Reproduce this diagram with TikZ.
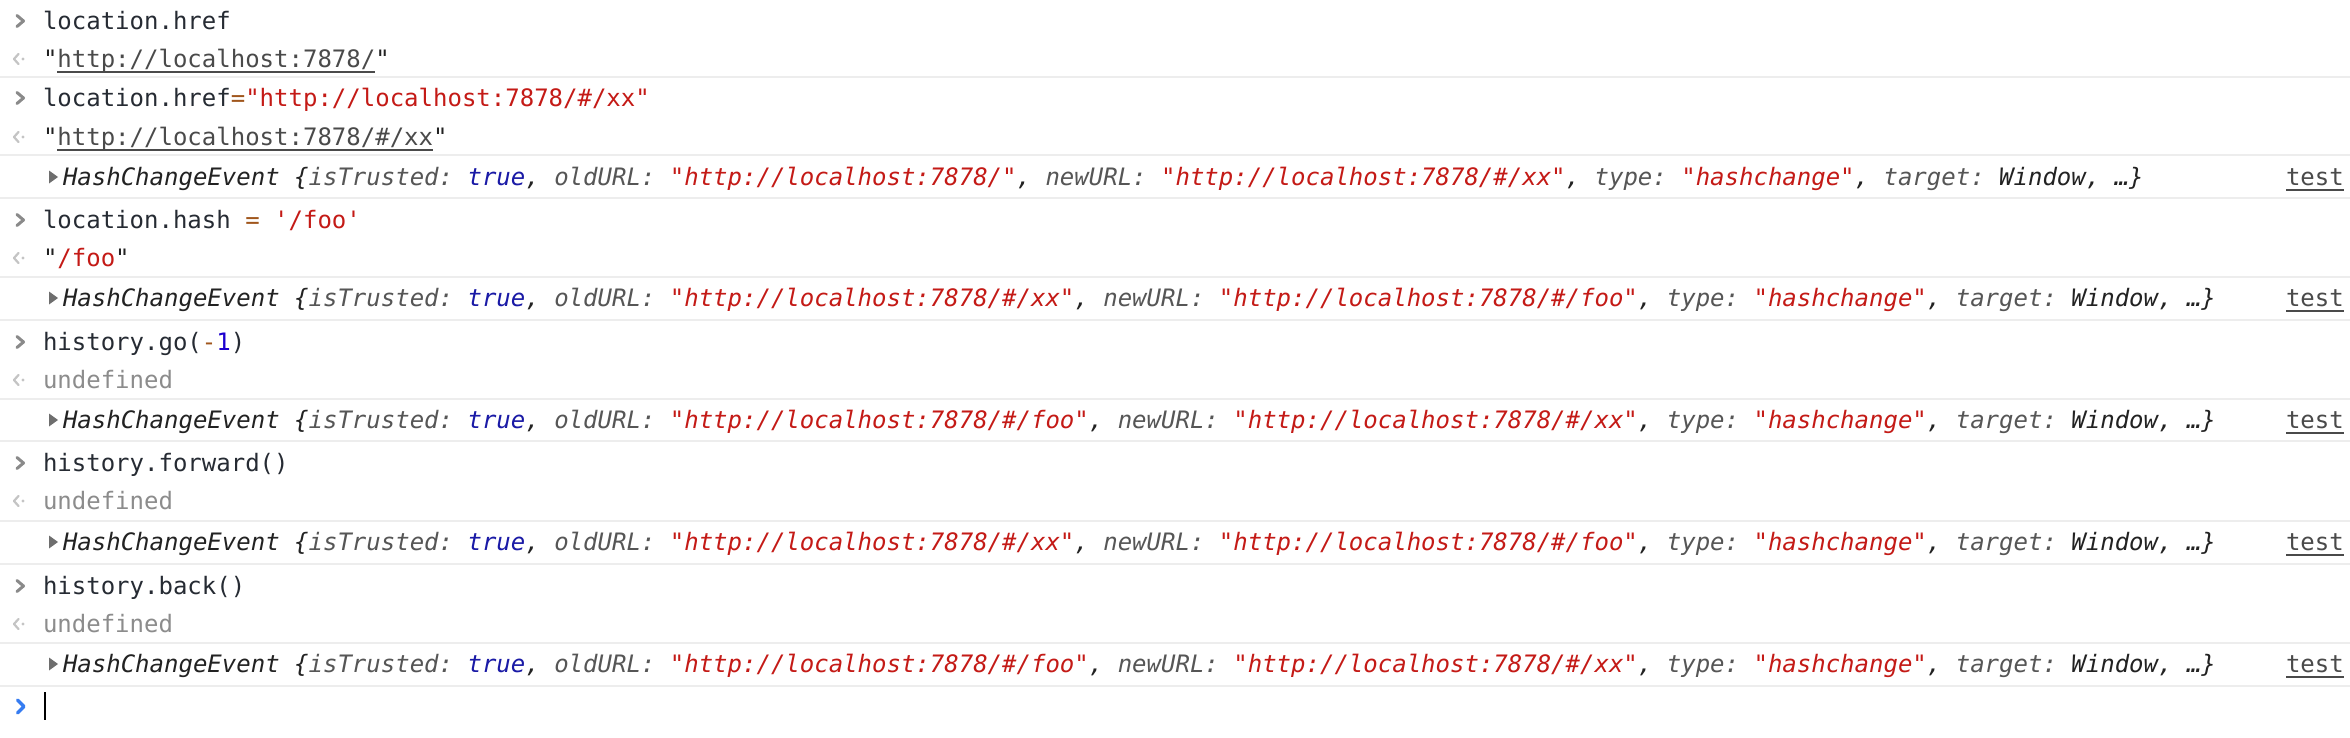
\documentclass[tikz,border=0pt]{standalone}
\usepackage{fontspec}
\setmonofont{DejaVu Sans Mono}
\usepackage{xcolor}
\definecolor{cin}{HTML}{262B33}
\definecolor{cdark}{HTML}{222222}
\definecolor{ckey}{HTML}{565656}
\definecolor{cstr}{HTML}{C41A16}
\definecolor{ctrue}{HTML}{1A1AA6}
\definecolor{cnum}{HTML}{1C00CF}
\definecolor{cop}{HTML}{A0561C}
\definecolor{curl}{HTML}{4A4A4A}
\definecolor{cundef}{HTML}{8C8C8C}
\definecolor{csep}{HTML}{EDEDED}
\definecolor{cprompt}{HTML}{8A8A8A}
\definecolor{cret}{HTML}{C4C4C4}
\definecolor{ctri}{HTML}{6E6E6E}
\definecolor{cblue}{HTML}{367CF1}
\newcommand\ulx[1]{\setbox0\hbox{#1}\rlap{\rule[-2.9pt]{\wd0}{0.9pt}}\box0}
\newcommand\kStr[1]{\textcolor{cstr}{#1}}
\newcommand\kKey[1]{\textcolor{ckey}{#1}}
\newcommand\kTrue[1]{\textcolor{ctrue}{#1}}
\newcommand\kOp[1]{\textcolor{cop}{#1}}
\newcommand\kNum[1]{\textcolor{cnum}{#1}}
\newcommand\kUrl[1]{\textcolor{curl}{\ulx{#1}}}
\newcommand\hce[2]{HashChangeEvent \{\kKey{isTrusted:} \kTrue{true}, \kKey{oldURL:} \kStr{"#1"}, \kKey{newURL:} \kStr{"#2"}, \kKey{type:} \kStr{"hashchange"}, \kKey{target:} Window, …\}}
\tikzset{
  txt/.style={anchor=mid west, inner sep=0pt, outer sep=0pt, yshift=-2pt,
    font=\ttfamily\fontsize{12pt}{14pt}\selectfont, text=cin},
  outtxt/.style={txt, text=cdark},
  undeftxt/.style={txt, text=cundef},
  evtxt/.style={txt, font=\ttfamily\itshape\fontsize{12pt}{14pt}\selectfont, text=cdark},
  linktxt/.style={txt, text=curl},
  seprule/.style={draw=csep, line width=1pt},
  promptmark/.style={draw=cprompt, line width=1.5pt, line cap=round, line join=round},
  retmark/.style={draw=cret, line width=1.1pt, line cap=round, line join=round},
  trimark/.style={fill=ctri, draw=none},
}
\begin{document}
\begin{tikzpicture}[x=0.5pt,y=-0.5pt]
\fill[white] (0,0) rectangle (2350,738);
\useasboundingbox (0,0) rectangle (2350,738);
% separators
\foreach \yy in {77,155,198,277,320,399,441,521,564,643,686}
  \draw[seprule] (0,\yy) -- (2350,\yy);
% input prompts
\foreach \yy in {21,98,220,342,463,586}
  \draw[promptmark] (17,{\yy-5.5}) -- (23.5,\yy) -- (17,{\yy+5.5});
% return marks
\foreach \yy in {59,137,258,380,501,624}{
  \draw[retmark] (18.5,{\yy-5}) -- (14,\yy) -- (18.5,{\yy+5});
  \fill[cret] (23,\yy) circle (1.6);
}
% expand triangles
\foreach \yy in {177,298,420,542,664}
  \fill[trimark] (49,{\yy-6.5}) -- (58,\yy) -- (49,{\yy+6.5}) -- cycle;
% rows
\node[txt] (l1) at (43,21) {location.href};
\node[outtxt] (l2) at (43,59) {"\kUrl{http://localhost:7878/}"};
\node[txt] (l3) at (43,98) {location.href\kOp{=}\kStr{"http://localhost:7878/\#/xx"}};
\node[outtxt] (l4) at (43,137) {"\kUrl{http://localhost:7878/\#/xx}"};
\node[evtxt] (l5) at (63,177) {\hce{http://localhost:7878/}{http://localhost:7878/\#/xx}};
\node[linktxt] (t5) at (2286,177) {\ulx{test}};
\node[txt] (l6) at (43,220) {location.hash \kOp{=} \kStr{'/foo'}};
\node[outtxt] (l7) at (43,258) {"\kStr{/foo}"};
\node[evtxt] (l8) at (63,298) {\hce{http://localhost:7878/\#/xx}{http://localhost:7878/\#/foo}};
\node[linktxt] (t8) at (2286,298) {\ulx{test}};
\node[txt] (l9) at (43,342) {history.go(\kOp{-}\kNum{1})};
\node[undeftxt] (l10) at (43,380) {undefined};
\node[evtxt] (l11) at (63,420) {\hce{http://localhost:7878/\#/foo}{http://localhost:7878/\#/xx}};
\node[linktxt] (t11) at (2286,420) {\ulx{test}};
\node[txt] (l12) at (43,463) {history.forward()};
\node[undeftxt] (l13) at (43,501) {undefined};
\node[evtxt] (l14) at (63,542) {\hce{http://localhost:7878/\#/xx}{http://localhost:7878/\#/foo}};
\node[linktxt] (t14) at (2286,542) {\ulx{test}};
\node[txt] (l15) at (43,586) {history.back()};
\node[undeftxt] (l16) at (43,624) {undefined};
\node[evtxt] (l17) at (63,664) {\hce{http://localhost:7878/\#/foo}{http://localhost:7878/\#/xx}};
\node[linktxt] (t17) at (2286,664) {\ulx{test}};
% final prompt
\draw[draw=cblue, line width=1.6pt, line cap=round, line join=round] (17.5,700) -- (24,706.5) -- (17.5,713);
\coordinate (curtop) at (45,692);
\coordinate (curbot) at (45,720);
\draw[black, line width=1pt] (curtop) -- (curbot);
\end{tikzpicture}
\end{document}
